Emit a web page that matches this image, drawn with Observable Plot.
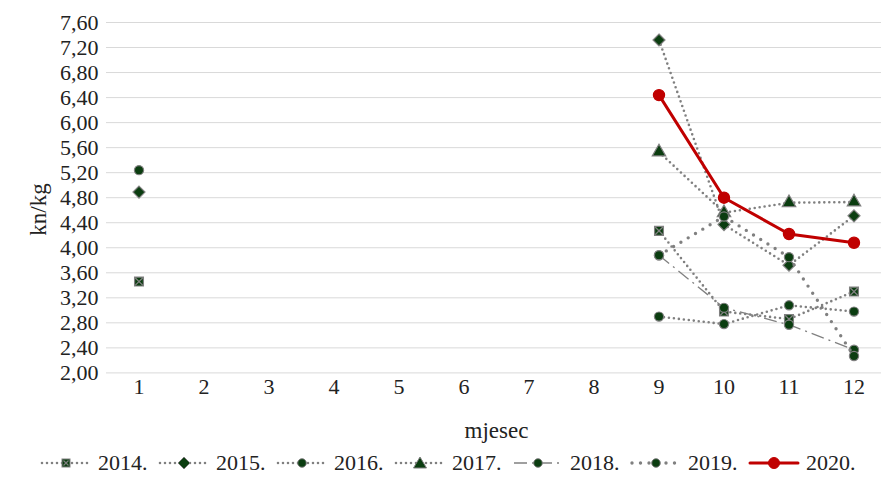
<!DOCTYPE html>
<html><head><meta charset="utf-8">
<script src="https://cdn.jsdelivr.net/npm/d3@7"></script>
<script src="https://cdn.jsdelivr.net/npm/@observablehq/plot@0.6"></script>
<style>
html,body{margin:0;padding:0;background:#fff;overflow:hidden;}
#chart{width:881px;font-family:"Liberation Serif","Times New Roman",serif;}
#chart svg [aria-label$="tick label"]{font-size:22px;font-family:"Liberation Serif","Times New Roman",serif;}
#chart svg .ttl{font-size:23px;font-family:"Liberation Serif","Times New Roman",serif;}
.legend{display:flex;align-items:center;padding-left:40px;height:34px;margin-top:1px;font-size:22px;color:#222;font-family:"Liberation Serif","Times New Roman",serif;}
.item{display:flex;align-items:center;margin-right:10.5px;}
.item svg{margin-right:6px;}
</style></head><body><div id="chart"></div>
<script>
const months = [1,2,3,4,5,6,7,8,9,10,11,12];
const yTicks = [2.0,2.4,2.8,3.2,3.6,4.0,4.4,4.8,5.2,5.6,6.0,6.4,6.8,7.2,7.6];
const seriesNames = ["2014.","2015.","2016.","2017.","2018.","2019.","2020."];
const v2014 = [3.46,null,null,null,null,null,null,null,4.27,2.98,2.86,3.30];
const v2015 = [4.89,null,null,null,null,null,null,null,7.32,4.37,3.72,4.51];
const v2016 = [5.24,null,null,null,null,null,null,null,2.90,2.78,3.08,2.98];
const v2017 = [null,null,null,null,null,null,null,null,5.53,4.56,4.72,4.73];
const v2018 = [null,null,null,null,null,null,null,null,3.88,3.04,2.77,2.37];
const v2019 = [null,null,null,null,null,null,null,null,3.88,4.50,3.85,2.27];
const v2020 = [null,null,null,null,null,null,null,null,6.44,4.80,4.22,4.08];
const values = [v2014,v2015,v2016,v2017,v2018,v2019,v2020];
const xTitle = "mjesec", yTitle = "kn/kg";

const GRAY = "#808080", GREEN = "#0b3d10", RED = "#c00000";
const styles = [
  {line:{stroke:GRAY,strokeWidth:2.6,strokeDasharray:"0 5",strokeLinecap:"round"}, sym:"square", r:5},
  {line:{stroke:GRAY,strokeWidth:2.6,strokeDasharray:"0 5",strokeLinecap:"round"}, sym:"diamond2", r:5.4},
  {line:{stroke:GRAY,strokeWidth:2.6,strokeDasharray:"0 5",strokeLinecap:"round"}, sym:"circle", r:4.6},
  {line:{stroke:GRAY,strokeWidth:2.6,strokeDasharray:"0 5",strokeLinecap:"round"}, sym:"triangle", r:5},
  {line:{stroke:GRAY,strokeWidth:1.3,strokeDasharray:"13 5 2 5",strokeLinecap:"butt"}, sym:"circle", r:4.6},
  {line:{stroke:GRAY,strokeWidth:3.4,strokeDasharray:"0 8.5",strokeLinecap:"round"}, sym:"circle", r:4.6},
  {line:{stroke:RED,strokeWidth:3,strokeLinecap:"round"}, sym:"circle", r:5.6, fill:RED, mstroke:RED}
];

const rows = (i) => months.map((m,k)=>({month:m, value:values[i][k], series:seriesNames[i]}));

const marks = [Plot.ruleY(yTicks,{stroke:"#d9d9d9",strokeWidth:1})];
styles.forEach((s,i)=>{
  const d = rows(i);
  marks.push(Plot.line(d,{x:"month",y:"value",...s.line}));
  marks.push(Plot.dot(d,{x:"month",y:"value",symbol:s.sym,r:s.r,fill:s.fill||GREEN,stroke:s.mstroke||GRAY,strokeWidth:1.2}));
  if(i===0) marks.push(Plot.dot(d,{x:"month",y:"value",symbol:"times",r:3.6,stroke:GRAY,strokeWidth:1.3}));
});
marks.push(Plot.axisY(yTicks,{tickSize:0,tickPadding:8,tickFormat:d=>d.toFixed(2).replace(".",","),label:null}));
marks.push(Plot.axisX(months,{tickSize:0,tickPadding:5,label:null}));
marks.push(Plot.text([xTitle],{frameAnchor:"bottom",dy:65,className:"ttl",fill:"#222"}));
marks.push(Plot.text([yTitle],{frameAnchor:"left",rotate:-90,dx:-68,dy:38,className:"ttl",fill:"#222"}));

const chart = Plot.plot({
  width:881, height:445,
  marginTop:22, marginBottom:72.6, marginLeft:106, marginRight:-5,
  style:{fontFamily:"'Liberation Serif','Times New Roman',serif",fontSize:"22px",color:"#222",background:"#fff",overflow:"visible"},
  x:{type:"linear",domain:[0.5,12.5]},
  y:{domain:[2,7.6]},
  marks
});
const root = document.getElementById("chart");
root.appendChild(chart);

// legend
const leg = document.createElement("div"); leg.className="legend";
styles.forEach((s,i)=>{
  const it = document.createElement("div"); it.className="item";
  const W=52,H=20,cy=10;
  const l = s.line;
  let markSvg = "";
  const fill = s.fill||GREEN, st = s.mstroke||GRAY;
  const cx=W/2;
  if(s.sym==="square") markSvg = `<rect x="${cx-4}" y="${cy-4}" width="8" height="8" fill="${fill}" stroke="${st}" stroke-width="1"/><path d="M${cx-2.5},${cy-2.5}L${cx+2.5},${cy+2.5}M${cx+2.5},${cy-2.5}L${cx-2.5},${cy+2.5}" stroke="${GRAY}" stroke-width="1.2"/>`;
  else if(s.sym==="diamond2") markSvg = `<path d="M${cx},${cy-6}L${cx+6},${cy}L${cx},${cy+6}L${cx-6},${cy}Z" fill="${fill}" stroke="${st}" stroke-width="1"/>`;
  else if(s.sym==="triangle") markSvg = `<path d="M${cx},${cy-6}L${cx+6.5},${cy+5}L${cx-6.5},${cy+5}Z" fill="${fill}" stroke="${st}" stroke-width="1"/>`;
  else markSvg = `<circle cx="${cx}" cy="${cy}" r="${i===6?5.5:4.3}" fill="${fill}" stroke="${st}" stroke-width="1"/>`;
  it.innerHTML = `<svg width="${W}" height="${H}"><line x1="2" y1="${cy}" x2="${W-2}" y2="${cy}" stroke="${l.stroke}" stroke-width="${l.strokeWidth}" stroke-dasharray="${l.strokeDasharray||""}" stroke-linecap="${l.strokeLinecap||"butt"}"/>${markSvg}</svg><span>${seriesNames[i]}</span>`;
  leg.appendChild(it);
});
root.appendChild(leg);
</script>
</body></html>
